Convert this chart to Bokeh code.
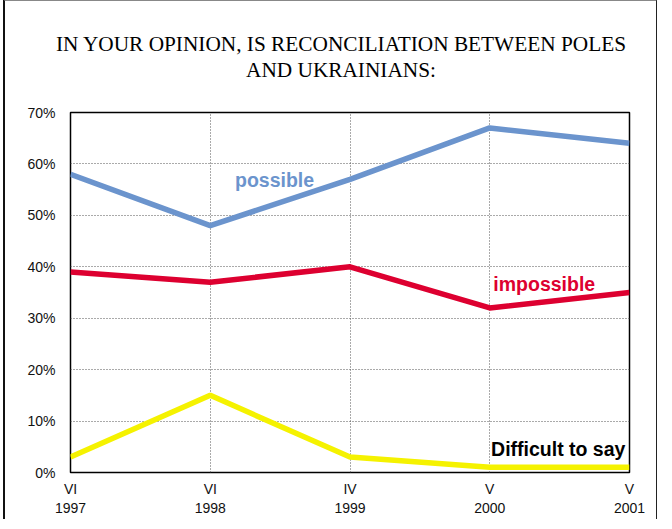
from bokeh.plotting import figure
from bokeh.models import FixedTicker, Label, LinearAxis, Div
from bokeh.layouts import column
from bokeh.embed import file_html
from bokeh.resources import INLINE

title_lines = ["IN YOUR OPINION, IS RECONCILIATION BETWEEN POLES", "AND UKRAINIANS:"]
x_months = ["VI", "VI", "IV", "V", "V"]
x_years = ["1997", "1998", "1999", "2000", "2001"]
possible = [58, 48, 57, 67, 64]
impossible = [39, 37, 40, 32, 35]
difficult = [3, 15, 3, 1, 1]
y_ticks = [0, 10, 20, 30, 40, 50, 60, 70]

xs = list(range(len(x_years)))

title_html = (
    '<div style="width:630px; padding-top:30px; padding-left:42px; text-align:center; '
    'font-family:\'Liberation Serif\'; font-size:21.3px; line-height:26px; color:black; '
    'white-space:nowrap;">' + "<br>".join(title_lines) + "</div>"
)
title_div = Div(text=title_html, width=651, height=101, margin=0)

p = figure(width=651, height=417, output_backend="svg", toolbar_location=None,
           x_range=(0, len(xs) - 1), y_range=(0, 70), title=None,
           min_border_left=65, min_border_right=27, min_border_top=10, min_border_bottom=47)

p.outline_line_color = "black"
p.outline_line_width = 1.5

p.xaxis.ticker = FixedTicker(ticks=xs)
p.xaxis.major_label_overrides = {i: lab for i, lab in enumerate(x_months)}
year_axis = LinearAxis(ticker=FixedTicker(ticks=xs),
                       major_label_overrides={i: lab for i, lab in enumerate(x_years)})
p.add_layout(year_axis, "below")
p.yaxis.ticker = FixedTicker(ticks=y_ticks)
p.yaxis.major_label_overrides = {v: f"{v}%" for v in y_ticks}
for ax in (p.xaxis + p.yaxis):
    ax.axis_line_color = None
    ax.major_tick_line_color = None
    ax.minor_tick_line_color = None
    ax.major_tick_out = 0
    ax.major_tick_in = 0
    ax.major_label_text_font = "Liberation Sans"
    ax.major_label_text_font_size = "14px"
    ax.major_label_text_color = "#111"
p.xaxis[0].major_label_standoff = 8
year_axis.major_label_standoff = 3
p.yaxis.major_label_standoff = 15

p.xgrid.grid_line_color = "#555"
p.xgrid.grid_line_dash = "1 2"
p.xgrid.grid_line_width = 1
p.ygrid.grid_line_color = "#555"
p.ygrid.grid_line_dash = "1 2"
p.ygrid.grid_line_width = 1

p.line(xs, possible, line_color="#6B94CD", line_width=5.5)
p.line(xs, impossible, line_color="#DD0030", line_width=5.5)
p.line(xs, difficult, line_color="#F5F200", line_width=5.5)

common = dict(text_font="Liberation Sans", text_font_size="19.5px", text_font_style="bold",
              text_align="center", text_baseline="middle")
p.add_layout(Label(x=1.46, y=56.8, text="possible", text_color="#6B94CD", **common))
p.add_layout(Label(x=3.39, y=36.7, text="impossible", text_color="#DD0030", **common))
p.add_layout(Label(x=3.49, y=4.5, text="Difficult to say", text_color="black", **common))

layout = column(title_div, p, spacing=0)
layout.styles = {"margin-left": "3px", "margin-top": "-1px", "margin-bottom": "-10px",
                 "border-left": "2px solid #111", "border-top": "2px solid #888",
                 "border-right": "1px solid #222"}

open("out.html", "w").write(file_html(layout, INLINE))
